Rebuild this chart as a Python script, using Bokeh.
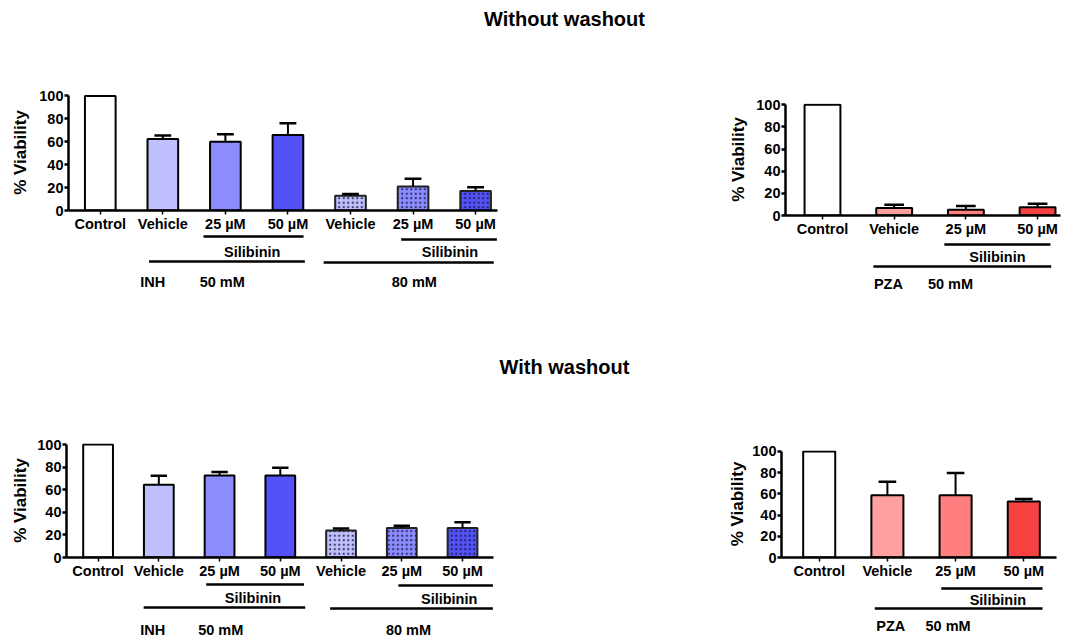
import numpy as np
from bokeh.plotting import figure
from bokeh.models import Range1d, FixedTicker, ColumnDataSource, Spacer
from bokeh.layouts import column, row
from bokeh.core.properties import value
from bokeh.embed import file_html
from bokeh.resources import INLINE

# ---------------- data ----------------
inh_labels = ["Control", "Vehicle", "25 µM", "50 µM", "Vehicle", "25 µM", "50 µM"]
pza_labels = ["Control", "Vehicle", "25 µM", "50 µM"]

inh_nowash_mean = [100, 62.5, 60.0, 66.0, 12.8, 21.0, 17.1]
inh_nowash_err = [0, 3.0, 6.6, 10.3, 1.7, 6.7, 3.2]
pza_nowash_mean = [100, 6.8, 5.3, 7.4]
pza_nowash_err = [0, 3.0, 3.3, 3.3]

inh_wash_mean = [100, 64.5, 72.5, 72.5, 24.0, 26.0, 26.0]
inh_wash_err = [0, 7.8, 3.2, 7.0, 1.7, 2.0, 5.2]
pza_wash_mean = [100, 58.6, 58.6, 52.8]
pza_wash_err = [0, 12.9, 21.2, 2.4]

inh_colors = ["#ffffff", "#c0c0ff", "#8c8cff", "#5252f7", "#c0c0ff", "#8c8cff", "#5252f7"]
inh_hatched = [False, False, False, False, True, True, True]
pza_colors = ["#ffffff", "#ffa0a0", "#ff7f7f", "#f84242"]
pza_hatched = [False, False, False, False]

y_ticks = [0, 20, 40, 60, 80, 100]
y_title = "% Viability"
titles = ["Without washout", "With washout"]

FONT = "Liberation Sans"


def make_panel(labels, means, errs, colors, hatched, xr, y_end, bw, w, h,
               mb_left, mb_right, mb_top, mb_bottom, lab_standoff):
    p = figure(width=w, height=h, x_range=xr, y_range=Range1d(0, y_end),
               toolbar_location=None, output_backend="svg",
               min_border_left=mb_left, min_border_right=mb_right,
               min_border_top=mb_top, min_border_bottom=mb_bottom)
    p.outline_line_color = None
    p.grid.visible = False
    n = len(means)
    idx = np.arange(n, dtype=float)
    means = np.asarray(means, dtype=float)
    errs = np.asarray(errs, dtype=float)
    hm = np.asarray(hatched)
    src_plain = ColumnDataSource(dict(x=idx[~hm], top=means[~hm],
                                      c=[colors[i] for i in range(n) if not hatched[i]]))
    p.vbar(x="x", top="top", bottom=0, width=bw, fill_color="c",
           line_color="black", line_width=2, source=src_plain)
    if hm.any():
        src_h = ColumnDataSource(dict(x=idx[hm], top=means[hm],
                                      c=[colors[i] for i in range(n) if hatched[i]]))
        p.vbar(x="x", top="top", bottom=0, width=bw, fill_color="c",
               line_color="#222222", line_width=2, hatch_pattern="dot",
               hatch_color="#14143c", hatch_alpha=0.8, hatch_scale=4.5,
               hatch_weight=3.4, source=src_h)
    m = errs > 0
    cw = 0.275 * bw
    p.segment(x0=idx[m], y0=means[m], x1=idx[m], y1=(means + errs)[m],
              line_color="black", line_width=2)
    p.segment(x0=idx[m] - cw, y0=(means + errs)[m], x1=idx[m] + cw,
              y1=(means + errs)[m], line_color="black", line_width=2.5)

    for ax in (p.yaxis[0], p.xaxis[0]):
        ax.major_label_text_font = FONT
        ax.major_label_text_font_style = "bold"
        ax.major_label_text_font_size = "14.5px"
        ax.major_label_text_color = "black"
        ax.major_label_standoff = 1
        ax.axis_line_width = 2.5
        ax.axis_line_color = "black"
        ax.major_tick_line_color = "black"
        ax.major_tick_in = 0
        ax.major_tick_out = 4
        ax.minor_tick_out = 0
        ax.minor_tick_in = 0

    ya = p.yaxis[0]
    ya.ticker = FixedTicker(ticks=y_ticks)
    ya.bounds = (0, 100)
    ya.axis_label = y_title
    ya.axis_label_text_font = FONT
    ya.axis_label_text_font_style = "bold"
    ya.axis_label_text_font_size = "17px"
    ya.axis_label_text_color = "black"
    ya.axis_label_standoff = lab_standoff
    ya.major_tick_line_width = 2.5

    xa = p.xaxis[0]
    xa.ticker = FixedTicker(ticks=list(range(n)))
    xa.major_label_overrides = {i: labels[i] for i in range(n)}
    xa.major_tick_line_width = 1.5
    return p


def make_anno(xr, w, h, mb_left, mb_right, lines, texts):
    p = figure(width=w, height=h, x_range=xr, y_range=Range1d(h, 0),
               toolbar_location=None, output_backend="svg",
               x_axis_location=None, y_axis_location=None, min_border=0,
               min_border_left=mb_left, min_border_right=mb_right)
    p.outline_line_color = None
    p.grid.visible = False
    x0, x1, yy = zip(*lines)
    p.segment(x0=list(x0), y0=list(yy), x1=list(x1), y1=list(yy),
              line_color="black", line_width=2.5)
    tx, ty, tt = zip(*texts)
    p.text(x=list(tx), y=list(ty), text=list(tt), text_align="center",
           text_baseline="middle", text_font=value(FONT),
           text_font_style="bold", text_font_size="14.5px", text_color="black")
    return p


def make_title(text, w, h, xc, yc):
    p = figure(width=w, height=h, x_range=Range1d(0, w), y_range=Range1d(0, h),
               toolbar_location=None, output_backend="svg",
               x_axis_location=None, y_axis_location=None, min_border=0)
    p.outline_line_color = None
    p.grid.visible = False
    p.text(x=[xc], y=[yc], text=[text], text_align="center",
           text_baseline="middle", text_font=value(FONT),
           text_font_style="bold", text_font_size="20px", text_color="black")
    return p


# ---------------- top row: without washout ----------------
xr_tl = Range1d(-0.508, 6.35)
tl = make_panel(inh_labels, inh_nowash_mean, inh_nowash_err, inh_colors, inh_hatched,
                xr_tl, 101.3, 0.49, 494, 196, 57, 5, 56, 22, 6)
tl_anno = make_anno(xr_tl, 494, 58, 57, 5,
                    [(1.65, 3.25, 2), (0.78, 3.27, 27), (4.81, 6.34, 5), (3.57, 6.29, 28)],
                    [(2.43, 17, "Silibinin"), (0.84, 47, "INH"), (1.95, 47, "50 mM"),
                     (5.59, 17, "Silibinin"), (5.02, 47, "80 mM")])

xr_tr = Range1d(-0.516, 3.32)
tr = make_panel(pza_labels, pza_nowash_mean, pza_nowash_err, pza_colors, pza_hatched,
                xr_tr, 101.2, 0.5, 336, 201, 60, 1, 65, 22, 5)
tr_anno = make_anno(xr_tr, 336, 53, 60, 1,
                    [(1.70, 3.18, 5), (0.71, 3.19, 27)],
                    [(2.44, 17, "Silibinin"), (0.92, 44, "PZA"), (1.785, 44, "50 mM")])

# ---------------- bottom row: with washout ----------------
xr_bl = Range1d(-0.52, 6.51)
bl = make_panel(inh_labels, inh_wash_mean, inh_wash_err, inh_colors, inh_hatched,
                xr_bl, 100.9, 0.49, 494, 201, 54, 9, 63, 22, 4)
bl_anno = make_anno(xr_bl, 494, 55, 54, 9,
                    [(1.78, 3.39, 3), (0.75, 3.41, 26), (4.945, 6.5, 4), (3.82, 6.5, 27)],
                    [(2.55, 16, "Silibinin"), (0.90, 48, "INH"), (2.02, 48, "50 mM"),
                     (5.78, 17, "Silibinin"), (5.11, 48, "80 mM")])

xr_br = Range1d(-0.553, 3.48)
br = make_panel(pza_labels, pza_wash_mean, pza_wash_err, pza_colors, pza_hatched,
                xr_br, 100.9, 0.47, 332, 201, 54, 1, 70, 22, 2)
br_anno = make_anno(xr_br, 332, 55, 54, 1,
                    [(1.79, 3.275, 7), (0.815, 3.275, 27)],
                    [(2.62, 18, "Silibinin"), (1.05, 44, "PZA"), (1.89, 44, "50 mM")])

t1 = make_title(titles[0], 1049, 30, 556, 20)
t2 = make_title(titles[1], 1049, 88, 556, 14)

row1 = row(column(tl, tl_anno), Spacer(width=223, height=254), column(tr, tr_anno))
row2 = row(column(bl, bl_anno), Spacer(width=223, height=256), column(br, br_anno))
body = column(t1, row1, t2, row2)
layout = row(Spacer(width=8, height=628), column(Spacer(width=1049, height=8), body))

open("out.html", "w").write(file_html(layout, INLINE))
